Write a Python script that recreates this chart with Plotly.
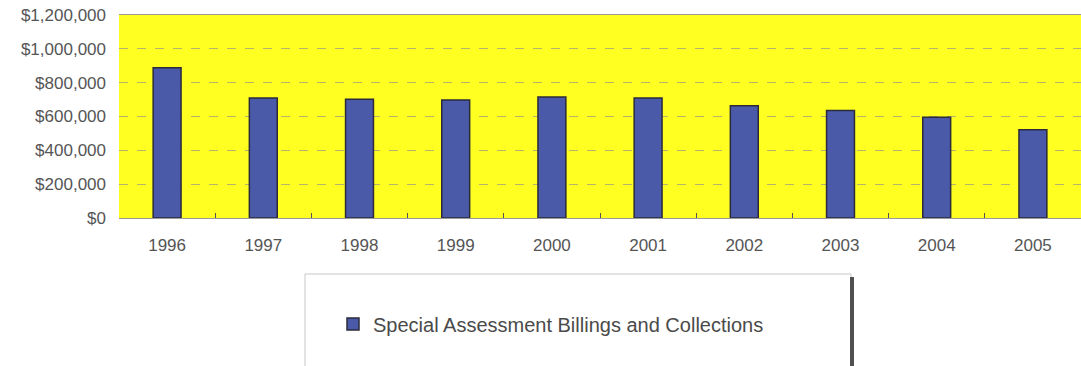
import plotly.graph_objects as go

years = ["1996", "1997", "1998", "1999", "2000", "2001", "2002", "2003", "2004", "2005"]
billings = [888000, 710000, 702000, 698000, 715000, 710000, 663000, 635000, 596000, 521000]
series_name = "Special Assessment Billings and Collections"
y_ticks = [0, 200000, 400000, 600000, 800000, 1000000, 1200000]
y_tick_labels = ["$0", "$200,000", "$400,000", "$600,000", "$800,000", "$1,000,000", "$1,200,000"]

W, H = 1081, 366
L, R, T, B = 119, 0, 15, 148
PW = W - L - R
PH = H - T - B


def px_x(x):
    return (x - L) / PW


def px_y(y):
    return (H - B - y) / PH


fig = go.Figure()
fig.add_trace(go.Bar(
    x=years, y=billings, name=series_name,
    marker=dict(color="#4A5AA8", line=dict(color="#2B2B3A", width=1.5)),
    showlegend=True,
))

shapes = [
    dict(type="rect", xref="paper", yref="paper",
         x0=px_x(305), x1=px_x(851), y0=px_y(274), y1=px_y(372),
         line=dict(color="#C8C8C8", width=1), fillcolor="white", layer="below"),
    dict(type="line", xref="paper", yref="paper",
         x0=px_x(852), x1=px_x(852), y0=px_y(277), y1=px_y(372),
         line=dict(color="#505050", width=4)),
]

fig.update_layout(
    width=W, height=H,
    margin=dict(l=L, r=R, t=T, b=B, pad=0),
    paper_bgcolor="white",
    plot_bgcolor="#FFFF22",
    bargap=0.71,
    font=dict(family="Liberation Sans, Arial, sans-serif", size=17, color="#555555"),
    shapes=shapes,
    showlegend=True,
    legend=dict(
        x=px_x(333), y=px_y(324), xanchor="left", yanchor="middle",
        orientation="h", bgcolor="rgba(0,0,0,0)", borderwidth=0,
        font=dict(size=20, color="#4A4A4A"),
    ),
    xaxis=dict(
        type="category", showline=True, linecolor="#9A9A9A", linewidth=1, mirror=True,
        ticks="inside", tickson="boundaries", ticklen=5, tickcolor="#555555",
        showgrid=False, ticklabelstandoff=12, fixedrange=True,
    ),
    yaxis=dict(
        range=[0, 1200000], tickmode="array", tickvals=y_ticks, ticktext=y_tick_labels,
        showgrid=True, gridcolor="#B4B46A", griddash="dash", gridwidth=1,
        zeroline=False, showline=False, ticks="", ticklabelstandoff=12,
    ),
)

fig.write_html("out.html")
